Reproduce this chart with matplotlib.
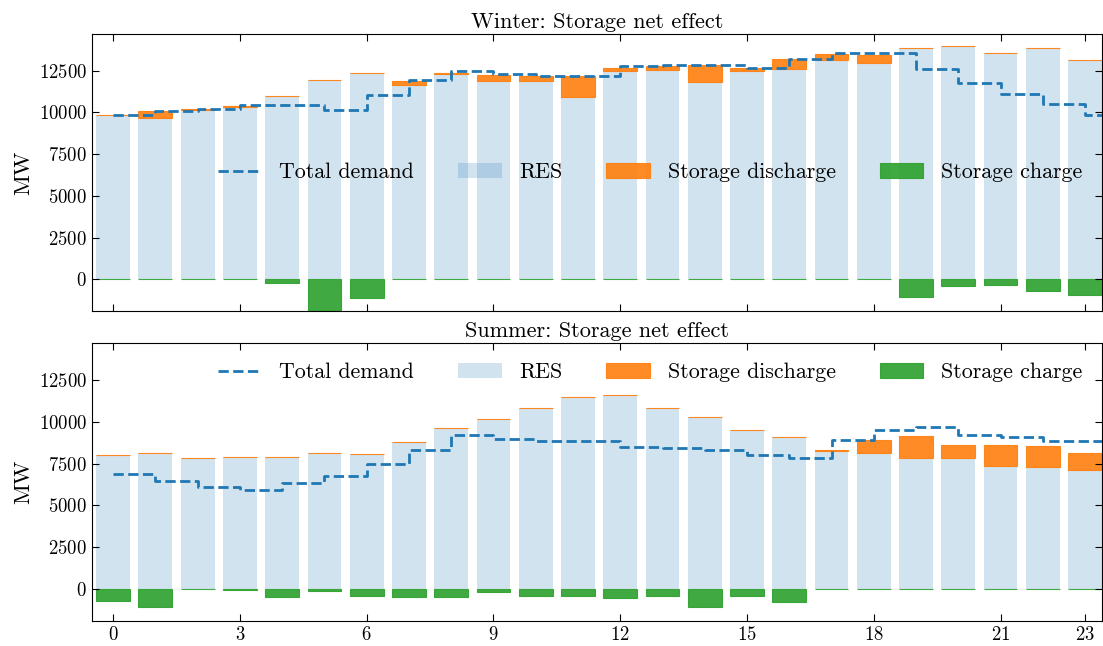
import numpy as np
import matplotlib.pyplot as plt

plt.rcParams['font.family'] = 'serif'
plt.rcParams['font.serif'] = ['cmr10']
plt.rcParams['mathtext.fontset'] = 'cm'
plt.rcParams['axes.formatter.use_mathtext'] = True
plt.rcParams['axes.unicode_minus'] = False

hours = np.arange(24)

# Winter profile (MW)
winter_res = [9830, 9670, 10170, 10310, 10965, 11920, 12340, 11620, 12280, 11900, 11900, 10945,
              12500, 12560, 11840, 12460, 12620, 13150, 12975, 13830, 13970, 13590, 13830, 13115]
winter_discharge = [0, 440, 40, 100, 0, 0, 0, 280, 100, 360, 300, 1215,
                    180, 240, 1015, 200, 590, 360, 455, 0, 0, 0, 0, 0]
winter_charge = [0, 0, 0, 0, -200, -1900, -1150, 0, 0, 0, 0, 0,
                 0, 0, 0, 0, 0, 0, 0, -1035, -380, -320, -680, -915]
winter_demand = [9870, 10110, 10210, 10430, 10450, 10130, 11065, 11920, 12460, 12320, 12200, 12180,
                 12760, 12820, 12860, 12660, 13190, 13550, 13550, 12600, 11740, 11100, 10500, 9870]

# Summer profile (MW)
summer_res = [8000, 8115, 7855, 7895, 7895, 8135, 8075, 8775, 9610, 10150, 10830, 11485,
              11605, 10830, 10290, 9510, 9075, 8275, 8155, 7855, 7855, 7380, 7320, 7140]
summer_discharge = [0, 0, 0, 0, 0, 0, 0, 0, 0, 0, 0, 0,
                    0, 0, 0, 0, 0, 40, 780, 1315, 780, 1255, 1255, 1015]
summer_charge = [-700, -1035, 0, -60, -440, -80, -380, -440, -440, -140, -380, -380,
                 -500, -380, -1035, -380, -740, 0, 0, 0, 0, 0, 0, 0]
summer_demand = [6880, 6440, 6080, 5920, 6340, 6760, 7480, 8315, 9210, 8975, 8835, 8875,
                 8515, 8455, 8295, 8035, 7815, 8915, 9510, 9710, 9230, 9075, 8855, 8835]

xticks = [0, 3, 6, 9, 12, 15, 18, 21, 23]

fig = plt.figure(figsize=(11.03, 6.46), dpi=100)
ax_w = fig.add_axes([0.0834, 0.5186, 0.9157, 0.4288])
ax_s = fig.add_axes([0.0834, 0.0387, 0.9157, 0.4303], sharex=ax_w, sharey=ax_w)


def draw(ax, res, discharge, charge, demand, title, loc):
    res = np.array(res)
    x_step = np.append(hours, 24)
    y_step = np.append(demand, demand[-1])
    ax.plot(x_step, y_step, drawstyle='steps-post', linestyle='--', color='tab:blue',
            linewidth=2, label='Total demand', zorder=3)
    ax.bar(hours, res, width=0.8, color='tab:blue', alpha=0.2, linewidth=0, label='RES')
    ax.bar(hours, discharge, bottom=res, width=0.8, color='tab:orange', alpha=0.9,
           edgecolor='tab:orange', linewidth=0.8, label='Storage discharge')
    ax.bar(hours, charge, width=0.8, color='tab:green', alpha=0.9,
           edgecolor='tab:green', linewidth=0.8, label='Storage charge')
    ax.set_title(title, fontsize=16, pad=4)
    ax.set_ylabel('MW', fontsize=16.5)
    ax.tick_params(direction='in', top=True, right=True, labelsize=13.5, length=5)
    ax.legend(loc=loc, ncol=4, frameon=False, fontsize=15.8, borderaxespad=0.5)


draw(ax_w, winter_res, winter_discharge, winter_charge, winter_demand,
     'Winter: Storage net effect', 'center right')
draw(ax_s, summer_res, summer_discharge, summer_charge, summer_demand,
     'Summer: Storage net effect', 'upper right')

ax_w.set_xlim(-0.5, 23.4)
ax_w.set_ylim(-1900, 14700)
ax_w.set_yticks([0, 2500, 5000, 7500, 10000, 12500])
ax_w.set_xticks(xticks)
ax_w.tick_params(labelbottom=False)

fig.savefig('out.png', dpi=100)
